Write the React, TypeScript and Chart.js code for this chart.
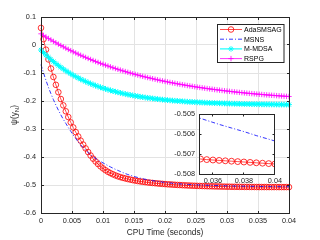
import React, { useEffect, useRef } from "react";
import { Chart, registerables } from "chart.js";
Chart.register(...registerables);

const cpuTime = [0, 0.0004, 0.0008, 0.0012, 0.0016, 0.002, 0.0024, 0.0028, 0.0032, 0.0036, 0.004, 0.0044, 0.0048, 0.0052, 0.0056, 0.006, 0.0064, 0.0068, 0.0072, 0.0076, 0.008, 0.0084, 0.0088, 0.0092, 0.0096, 0.01, 0.0104, 0.0108, 0.0112, 0.0116, 0.012, 0.0124, 0.0128, 0.0132, 0.0136, 0.014, 0.0144, 0.0148, 0.0152, 0.0156, 0.016, 0.0164, 0.0168, 0.0172, 0.0176, 0.018, 0.0184, 0.0188, 0.0192, 0.0196, 0.02, 0.0204, 0.0208, 0.0212, 0.0216, 0.022, 0.0224, 0.0228, 0.0232, 0.0236, 0.024, 0.0244, 0.0248, 0.0252, 0.0256, 0.026, 0.0264, 0.0268, 0.0272, 0.0276, 0.028, 0.0284, 0.0288, 0.0292, 0.0296, 0.03, 0.0304, 0.0308, 0.0312, 0.0316, 0.032, 0.0324, 0.0328, 0.0332, 0.0336, 0.034, 0.0344, 0.0348, 0.0352, 0.0356, 0.036, 0.0364, 0.0368, 0.0372, 0.0376, 0.038, 0.0384, 0.0388, 0.0392, 0.0396, 0.04];

const adaSMSAG = [0.061, 0.0208, -0.0166, -0.0515, -0.084, -0.1142, -0.1423, -0.1685, -0.1929, -0.2156,
  -0.2367, -0.2572, -0.2764, -0.2944, -0.3111, -0.3267, -0.3415, -0.3557, -0.3693, -0.3823,
  -0.3947, -0.4059, -0.4159, -0.4251, -0.4335, -0.4407, -0.4472, -0.4528, -0.4576, -0.4618,
  -0.4657, -0.469, -0.4719, -0.4744, -0.4766, -0.4787, -0.4807, -0.4825, -0.4842, -0.4858,
  -0.4872, -0.4885, -0.4897, -0.4908, -0.4918, -0.4927, -0.4936, -0.4944, -0.4952, -0.496,
  -0.4967, -0.4974, -0.498, -0.4986, -0.4992, -0.4997, -0.5002, -0.5007, -0.5012, -0.5016,
  -0.502, -0.5024, -0.5028, -0.5031, -0.5034, -0.5037, -0.504, -0.5043, -0.5045, -0.5047,
  -0.5049, -0.5052, -0.5054, -0.5056, -0.5058, -0.506, -0.50615, -0.50627, -0.50639, -0.5065,
  -0.5066, -0.50669, -0.50678, -0.50687, -0.50696, -0.50705, -0.50712, -0.50718, -0.50725, -0.50728,
  -0.5073, -0.50732, -0.50734, -0.50736, -0.50738, -0.5074, -0.50742, -0.50744, -0.50746, -0.50748, -0.5075];

const msns = [-0.07, -0.0993, -0.1263, -0.1511, -0.1739, -0.195, -0.2145, -0.2325, -0.2495, -0.2655,
  -0.28, -0.2945, -0.3082, -0.3213, -0.3339, -0.346, -0.3565, -0.3663, -0.3754, -0.384,
  -0.392, -0.3988, -0.4049, -0.4106, -0.416, -0.421, -0.426, -0.4308, -0.4354, -0.4398,
  -0.444, -0.448, -0.4518, -0.4555, -0.4591, -0.4625, -0.4654, -0.4681, -0.4707, -0.4732,
  -0.4755, -0.4775, -0.4794, -0.4812, -0.4829, -0.4845, -0.4859, -0.4872, -0.4884, -0.4896,
  -0.4908, -0.4918, -0.4927, -0.4936, -0.4945, -0.4953, -0.496, -0.4966, -0.4972, -0.4978,
  -0.4983, -0.4988, -0.4992, -0.4996, -0.5, -0.5004, -0.5007, -0.501, -0.5013, -0.5016,
  -0.5019, -0.50215, -0.5024, -0.50264, -0.50287, -0.5031, -0.5033, -0.5035, -0.5037, -0.5039,
  -0.5041, -0.50425, -0.5044, -0.50454, -0.50467, -0.5048, -0.50494, -0.50508, -0.50522, -0.50532,
  -0.50542, -0.50552, -0.50561, -0.5057, -0.50579, -0.50588, -0.50598, -0.50608, -0.50617, -0.50626, -0.50635];

const mMDSA = [-0.018, -0.027, -0.0357, -0.0439, -0.0518, -0.0592, -0.0664, -0.0732, -0.0797, -0.0859,
  -0.0918, -0.0975, -0.1029, -0.108, -0.1129, -0.1176, -0.1221, -0.1263, -0.1304, -0.1343,
  -0.138, -0.1415, -0.1449, -0.1481, -0.1511, -0.1541, -0.1568, -0.1595, -0.162, -0.1645,
  -0.1668, -0.169, -0.1711, -0.1731, -0.175, -0.1768, -0.1786, -0.1802, -0.1818, -0.1833,
  -0.1848, -0.1861, -0.1875, -0.1887, -0.1899, -0.191, -0.1921, -0.1932, -0.1942, -0.1951,
  -0.196, -0.1969, -0.1977, -0.1985, -0.1992, -0.1999, -0.2006, -0.2013, -0.2019, -0.2025,
  -0.203, -0.2036, -0.2041, -0.2046, -0.205, -0.2055, -0.2059, -0.2063, -0.2067, -0.2071,
  -0.2074, -0.2077, -0.2081, -0.2084, -0.2087, -0.2089, -0.2092, -0.2095, -0.2097, -0.2099,
  -0.2101, -0.2104, -0.2106, -0.2107, -0.2109, -0.2111, -0.2113, -0.2114, -0.2116, -0.2117,
  -0.2119, -0.212, -0.2121, -0.2122, -0.2123, -0.2125, -0.2126, -0.2127, -0.2128, -0.2128, -0.2129];

const rspg = [0.04, 0.0343, 0.0288, 0.0234, 0.0182, 0.013, 0.008, 0.003, -0.0018, -0.0065,
  -0.0111, -0.0156, -0.02, -0.0243, -0.0285, -0.0326, -0.0366, -0.0405, -0.0443, -0.048,
  -0.0517, -0.0553, -0.0588, -0.0622, -0.0655, -0.0688, -0.0719, -0.075, -0.0781, -0.0811,
  -0.084, -0.0868, -0.0896, -0.0923, -0.0949, -0.0975, -0.1001, -0.1025, -0.1049, -0.1073,
  -0.1096, -0.1119, -0.1141, -0.1162, -0.1183, -0.1204, -0.1224, -0.1244, -0.1263, -0.1282,
  -0.13, -0.1318, -0.1336, -0.1353, -0.1369, -0.1386, -0.1402, -0.1417, -0.1433, -0.1448,
  -0.1462, -0.1476, -0.149, -0.1504, -0.1517, -0.153, -0.1543, -0.1555, -0.1568, -0.1579,
  -0.1591, -0.1602, -0.1613, -0.1624, -0.1635, -0.1645, -0.1655, -0.1665, -0.1675, -0.1684,
  -0.1693, -0.1702, -0.1711, -0.172, -0.1728, -0.1736, -0.1744, -0.1752, -0.176, -0.1767,
  -0.1775, -0.1782, -0.1789, -0.1796, -0.1802, -0.1809, -0.1815, -0.1822, -0.1828, -0.1834, -0.1839];

const seriesNames = ["AdaSMSAG", "MSNS", "M-MDSA", "RSPG"];
const xTicks = [0, 0.005, 0.01, 0.015, 0.02, 0.025, 0.03, 0.035, 0.04];
const xTickLabels = ["0", "0.005", "0.01", "0.015", "0.02", "0.025", "0.03", "0.035", "0.04"];
const yTicks = [-0.6, -0.5, -0.4, -0.3, -0.2, -0.1, 0, 0.1];
const yTickLabels = ["-0.6", "-0.5", "-0.4", "-0.3", "-0.2", "-0.1", "0", "0.1"];
const insetXTicks = [0.036, 0.038, 0.04];
const insetXTickLabels = ["0.036", "0.038", "0.04"];
const insetYTicks = [-0.508, -0.507, -0.506, -0.505];
const insetYTickLabels = ["-0.508", "-0.507", "-0.506", "-0.505"];
const xTitle = "CPU Time (seconds)";
const yTitleMain = "\u03c8(y";
const yTitleSub = "N";
const yTitleEnd = ")";

const FONT = '"Liberation Sans", Arial, Helvetica, sans-serif';
const AXIS = "#262626";

const styles = [
  { color: "#ff0000", lineWidth: 0.7, dash: [] as number[], marker: "circle", r: 2.8 },
  { color: "#0000ff", lineWidth: 0.8, dash: [4, 2, 1, 2], marker: "none", r: 0 },
  { color: "#00ffff", lineWidth: 1.1, dash: [] as number[], marker: "star", r: 2.9 },
  { color: "#ff00ff", lineWidth: 0.8, dash: [] as number[], marker: "cross", r: 2.7 },
];
const seriesValues = [adaSMSAG, msns, mMDSA, rspg];

function pts(vals: number[]) {
  return cpuTime.map((x, i) => ({ x, y: vals[i] }));
}

function labelFor(value: number, ticks: number[], labels: string[]) {
  const i = ticks.findIndex((t) => Math.abs(t - value) < 1e-9);
  return i >= 0 ? labels[i] : "";
}

function makeDataset(i: number, radiusScale: number, clip: any) {
  const s = styles[i];
  return {
    label: seriesNames[i],
    data: pts(seriesValues[i]),
    borderColor: s.color,
    borderWidth: s.lineWidth,
    borderDash: s.dash,
    backgroundColor: "rgba(0,0,0,0)",
    pointStyle: s.marker === "none" ? false : s.marker,
    pointRadius: s.r * radiusScale,
    pointBorderColor: s.color,
    pointBackgroundColor: "rgba(0,0,0,0)",
    pointBorderWidth: s.marker === "star" ? 1 : 0.8,
    tension: 0,
    order: 4 - i,
    clip,
  };
}

function drawMarker(ctx: CanvasRenderingContext2D, kind: string, x: number, y: number, r: number) {
  ctx.beginPath();
  if (kind === "circle") {
    ctx.arc(x, y, r, 0, Math.PI * 2);
  } else if (kind === "cross" || kind === "star") {
    ctx.moveTo(x - r, y); ctx.lineTo(x + r, y);
    ctx.moveTo(x, y - r); ctx.lineTo(x, y + r);
    if (kind === "star") {
      const d = r * 0.707;
      ctx.moveTo(x - d, y - d); ctx.lineTo(x + d, y + d);
      ctx.moveTo(x - d, y + d); ctx.lineTo(x + d, y - d);
    }
  }
  ctx.stroke();
}

function framePlugin(xt: number[], yt: number[], tickLen: number, fillWhite: boolean) {
  return {
    id: "frame",
    beforeDraw(chart: any) {
      if (!fillWhite) return;
      const { ctx, chartArea: a } = chart;
      ctx.save();
      ctx.fillStyle = "#ffffff";
      ctx.fillRect(a.left, a.top, a.right - a.left, a.bottom - a.top);
      ctx.restore();
    },
    afterDatasetsDraw(chart: any) {
      const { ctx, chartArea: a, scales } = chart;
      const L = Math.floor(a.left) + 0.5, R = Math.floor(a.right) + 0.5;
      const T = Math.floor(a.top) + 0.5, B = Math.floor(a.bottom) + 0.5;
      ctx.save();
      ctx.strokeStyle = AXIS;
      ctx.lineWidth = 1;
      ctx.setLineDash([]);
      ctx.strokeRect(L, T, R - L, B - T);
      ctx.beginPath();
      xt.forEach((v) => {
        const px = Math.floor(scales.x.getPixelForValue(v)) + 0.5;
        ctx.moveTo(px, B); ctx.lineTo(px, B - tickLen);
        ctx.moveTo(px, T); ctx.lineTo(px, T + tickLen);
      });
      yt.forEach((v) => {
        const py = Math.floor(scales.y.getPixelForValue(v)) + 0.5;
        ctx.moveTo(L, py); ctx.lineTo(L + tickLen, py);
        ctx.moveTo(R, py); ctx.lineTo(R - tickLen, py);
      });
      ctx.stroke();
      ctx.restore();
    },
  };
}

const yTitlePlugin = {
  id: "ytitle",
  afterDraw(chart: any) {
    const { ctx, chartArea: a } = chart;
    ctx.save();
    ctx.translate(14, (a.top + a.bottom) / 2);
    ctx.rotate(-Math.PI / 2);
    ctx.fillStyle = AXIS;
    ctx.textBaseline = "alphabetic";
    const big = `8.3px ${FONT}`;
    const small = `6px ${FONT}`;
    ctx.font = big;
    const w1 = ctx.measureText(yTitleMain).width;
    const w3 = ctx.measureText(yTitleEnd).width;
    ctx.font = small;
    const w2 = ctx.measureText(yTitleSub).width;
    let x = -(w1 + w2 + w3) / 2;
    ctx.font = big;
    ctx.fillText(yTitleMain, x, 3);
    x += w1;
    ctx.font = small;
    ctx.fillText(yTitleSub, x, 5);
    x += w2;
    ctx.font = big;
    ctx.fillText(yTitleEnd, x, 3);
    ctx.restore();
  },
};

const legendPlugin = {
  id: "customLegend",
  afterDraw(chart: any) {
    const ctx: CanvasRenderingContext2D = chart.ctx;
    const bx = 217.5, by = 24.5, bw = 66.5, bh = 38;
    ctx.save();
    ctx.fillStyle = "#ffffff";
    ctx.fillRect(bx, by, bw, bh);
    ctx.strokeStyle = AXIS;
    ctx.lineWidth = 1;
    ctx.strokeRect(bx, by, bw, bh);
    ctx.font = `7px ${FONT}`;
    ctx.textBaseline = "middle";
    seriesNames.forEach((name, i) => {
      const s = styles[i];
      const y = 29.5 + i * 9.7;
      ctx.strokeStyle = s.color;
      ctx.lineWidth = s.lineWidth;
      ctx.setLineDash(s.dash);
      ctx.beginPath();
      ctx.moveTo(220, y); ctx.lineTo(242, y);
      ctx.stroke();
      ctx.setLineDash([]);
      ctx.lineWidth = 0.8;
      if (s.marker !== "none") drawMarker(ctx, s.marker, 231, y, s.r);
      ctx.fillStyle = "#000000";
      ctx.fillText(name, 244, y + 0.5);
    });
    ctx.restore();
  },
};

export default function App() {
  const mainRef = useRef<HTMLCanvasElement>(null);
  const insetRef = useRef<HTMLCanvasElement>(null);

  useEffect(() => {
    document.body.style.margin = "0";
    const tickFont = { family: FONT, size: 7.3 };
    const main = new Chart(mainRef.current!, {
      type: "line",
      data: { datasets: [0, 1, 2, 3].map((i) => makeDataset(i, 1, false)) as any },
      options: {
        animation: false,
        responsive: false,
        devicePixelRatio: 1,
        layout: { padding: { left: 0, right: 31, top: 17, bottom: 0 } },
        plugins: { legend: { display: false }, tooltip: { enabled: false } },
        scales: {
          x: {
            type: "linear",
            min: 0,
            max: 0.04,
            afterFit: (s: any) => { s.height = 27; },
            afterBuildTicks: (s: any) => { s.ticks = xTicks.map((v) => ({ value: v })); },
            grid: { color: "#e3e3e3", lineWidth: 1, drawTicks: false },
            border: { display: false },
            ticks: {
              autoSkip: false, maxRotation: 0, padding: 4, color: AXIS, font: tickFont,
              callback: (v: any) => labelFor(Number(v), xTicks, xTickLabels),
            },
            title: { display: true, text: xTitle, color: AXIS, font: { family: FONT, size: 8.3 }, padding: { top: 0, bottom: 2 } },
          },
          y: {
            type: "linear",
            min: -0.6,
            max: 0.1,
            afterFit: (s: any) => { s.width = 41; },
            afterBuildTicks: (s: any) => { s.ticks = yTicks.map((v) => ({ value: v })); },
            grid: { color: "#e3e3e3", lineWidth: 1, drawTicks: false },
            border: { display: false },
            ticks: {
              autoSkip: false, padding: 5, color: AXIS, font: tickFont,
              callback: (v: any) => labelFor(Number(v), yTicks, yTickLabels),
            },
          },
        },
      } as any,
      plugins: [framePlugin(xTicks, yTicks, 2.5, false), yTitlePlugin, legendPlugin],
    });

    const inset = new Chart(insetRef.current!, {
      type: "line",
      data: { datasets: [0, 1].map((i) => makeDataset(i, 1.05, true)) as any },
      options: {
        animation: false,
        responsive: false,
        devicePixelRatio: 1,
        layout: { padding: { left: 0, right: 7, top: 14, bottom: 0 } },
        plugins: { legend: { display: false }, tooltip: { enabled: false } },
        scales: {
          x: {
            type: "linear",
            min: 0.0351,
            max: 0.04,
            afterFit: (s: any) => { s.height = 16; },
            afterBuildTicks: (s: any) => { s.ticks = insetXTicks.map((v) => ({ value: v })); },
            grid: { display: false, drawTicks: false },
            border: { display: false },
            ticks: {
              autoSkip: false, maxRotation: 0, padding: 3, color: AXIS, font: tickFont,
              callback: (v: any) => labelFor(Number(v), insetXTicks, insetXTickLabels),
            },
          },
          y: {
            type: "linear",
            min: -0.508,
            max: -0.505,
            afterFit: (s: any) => { s.width = 39; },
            afterBuildTicks: (s: any) => { s.ticks = insetYTicks.map((v) => ({ value: v })); },
            grid: { display: false, drawTicks: false },
            border: { display: false },
            ticks: {
              autoSkip: false, padding: 4, color: AXIS, font: tickFont,
              callback: (v: any) => labelFor(Number(v), insetYTicks, insetYTickLabels),
            },
          },
        },
      } as any,
      plugins: [framePlugin(insetXTicks, insetYTicks, 2, true)],
    });

    return () => {
      main.destroy();
      inset.destroy();
    };
  }, []);

  return (
    <div style={{ position: "fixed", left: 0, top: 0, width: 320, height: 240, background: "#ffffff" }}>
      <canvas ref={mainRef} width={320} height={240} style={{ position: "absolute", left: 0, top: 0, width: 320, height: 240 }} />
      <canvas ref={insetRef} width={125} height={90} style={{ position: "absolute", left: 160, top: 100, width: 125, height: 90 }} />
    </div>
  );
}
